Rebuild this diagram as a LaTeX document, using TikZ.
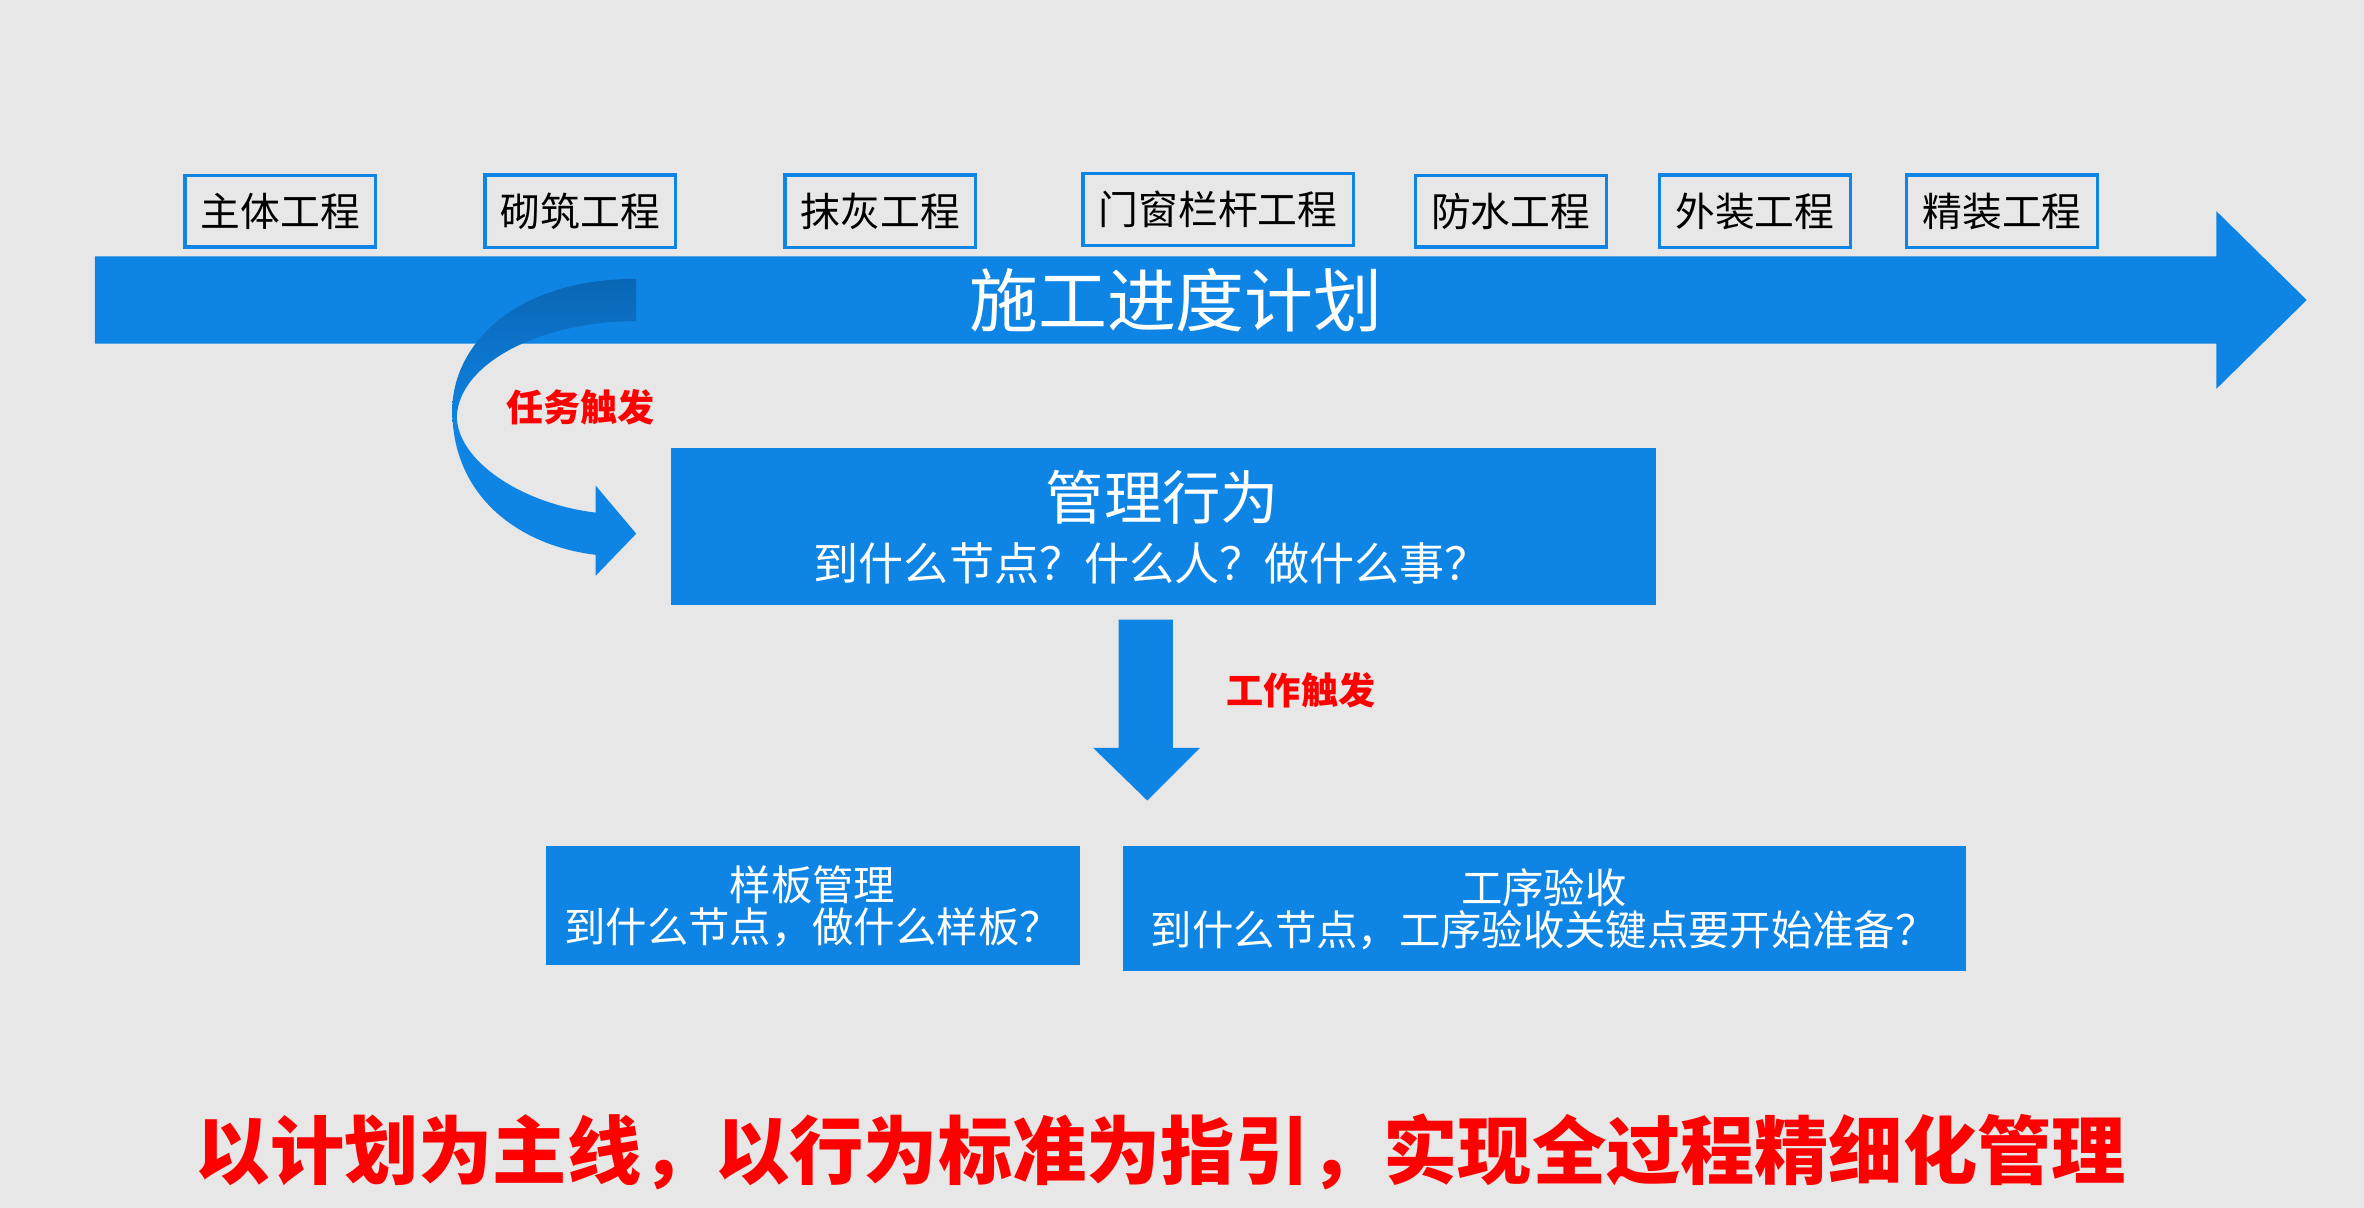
\documentclass[tikz,border=0pt]{standalone}
\usepackage{fontspec}
\setmainfont{Noto Sans CJK SC}
\definecolor{bg}{HTML}{E7E7E7}
\definecolor{pblue}{HTML}{0E84E4}
\definecolor{dblue}{HTML}{0A66B4}
\tikzset{
  stage/.style={draw=pblue,line width=0.6pt,minimum height=0.46cm,inner xsep=3pt,font=\fontsize{7.5}{9}\selectfont},
  bluebox/.style={fill=pblue,text=white,align=center},
  trigger/.style={text=red,font=\bfseries\fontsize{7}{8}\selectfont}
}
\begin{document}
\begin{tikzpicture}[x=0.01cm,y=-0.01cm]
  \fill[bg] (0,0) rectangle (1568,801);
  \useasboundingbox (0,0) rectangle (1568,801);
  % schedule arrow
  \fill[pblue] (63,170) -- (1470,170) -- (1470,140) -- (1530,199) -- (1470,258) -- (1470,228) -- (63,228) -- cycle;
  \node[text=white,font=\fontsize{13}{15}\selectfont] (plan) at (780,199) {施工进度计划};
  % stages
  \node[stage] (s1) at (186,140) {主体工程};
  \node[stage] (s2) at (385,140) {砌筑工程};
  \node[stage] (s3) at (584,140) {抹灰工程};
  \node[stage] (s4) at (808,139) {门窗栏杆工程};
  \node[stage] (s5) at (1002,140) {防水工程};
  \node[stage] (s6) at (1164,140) {外装工程};
  \node[stage] (s7) at (1328,140) {精装工程};
  % curved trigger arrow
  \shade[top color=dblue,bottom color=pblue,middle color=pblue]
    (422,185) .. controls (340,185) and (300,230) .. (300,272)
    .. controls (300,330) and (345,362) .. (395,368) -- (395,382) -- (422,354) -- (395,322) -- (395,340)
    .. controls (345,334) and (303,305) .. (303,276)
    .. controls (305,240) and (360,213) .. (422,213) -- cycle;
  \node[trigger] (t1) at (385,270) {任务触发};
  % management
  \node[bluebox,minimum width=6.53cm,minimum height=1.04cm] (mgmt) at (771.5,349) {};
  \node[text=white,font=\fontsize{11}{13}\selectfont] (mt) at (771,330) {管理行为};
  \node[text=white,font=\fontsize{8.5}{10}\selectfont] (mq) at (764,374) {到什么节点？什么人？做什么事？};
  % down arrow
  \fill[pblue] (742,411) -- (778,411) -- (778,496) -- (796,496) -- (761,531) -- (725,496) -- (742,496) -- cycle;
  \node[trigger] (t2) at (863,458) {工作触发};
  % sub boxes
  \node[bluebox,minimum width=3.54cm,minimum height=0.79cm] (b1) at (539,600.5) {};
  \node[text=white,font=\fontsize{7.8}{9}\selectfont,align=center] (b1t) at (539,601) {样板管理\\[-1pt]到什么节点，做什么样板？};
  \node[bluebox,minimum width=5.59cm,minimum height=0.83cm] (b2) at (1024.5,602.5) {};
  \node[text=white,font=\fontsize{7.8}{9}\selectfont,align=center] (b2t) at (1024,603) {工序验收\\[-1pt]到什么节点，工序验收关键点要开始准备？};
  % slogan
  \node[text=red,font=\bfseries\fontsize{14}{16}\selectfont] (slogan) at (770,764) {以计划为主线，以行为标准为指引，实现全过程精细化管理};
\end{tikzpicture}
\end{document}
